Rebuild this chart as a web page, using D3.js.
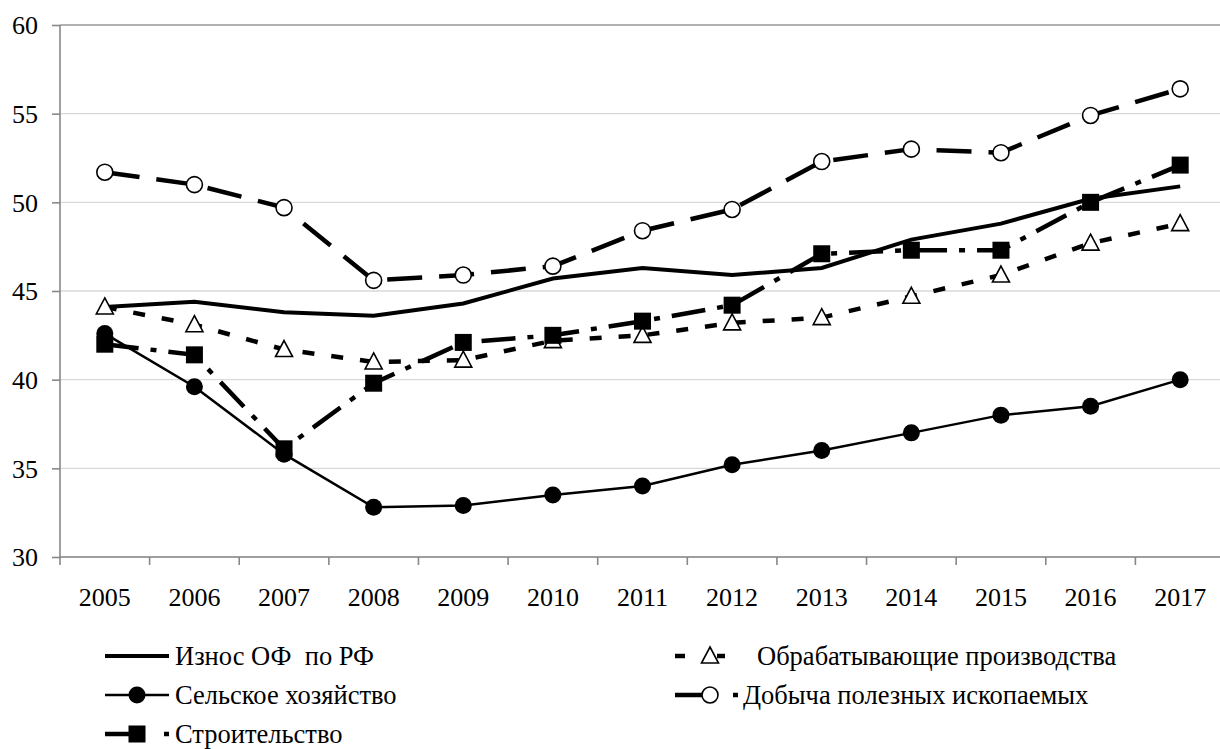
<!DOCTYPE html>
<html lang="ru">
<head>
<meta charset="utf-8">
<title>Износ основных фондов</title>
<script src="https://cdn.jsdelivr.net/npm/d3@7/dist/d3.min.js"></script>
<style>
  body { margin: 0; background: #fff; }
  svg text { font-family: "Liberation Serif", "Times New Roman", serif; fill: #000; white-space: pre; }
</style>
</head>
<body>
<svg id="chart" width="1220" height="749"></svg>
<script>
// годы и значения, %
var years = ['2005', '2006', '2007', '2008', '2009', '2010', '2011', '2012', '2013', '2014', '2015', '2016', '2017'];
var yTicks = [30, 35, 40, 45, 50, 55, 60];

var iznosRF      = [44.1, 44.4, 43.8, 43.6, 44.3, 45.7, 46.3, 45.9, 46.3, 47.9, 48.8, 50.2, 50.9];
var obrabat      = [44.1, 43.1, 41.7, 41.0, 41.1, 42.2, 42.5, 43.2, 43.5, 44.7, 45.9, 47.7, 48.8];
var selskoe      = [42.6, 39.6, 35.8, 32.8, 32.9, 33.5, 34.0, 35.2, 36.0, 37.0, 38.0, 38.5, 40.0];
var dobycha      = [51.7, 51.0, 49.7, 45.6, 45.9, 46.4, 48.4, 49.6, 52.3, 53.0, 52.8, 54.9, 56.4];
var stroitelstvo = [42.0, 41.4, 36.1, 39.8, 42.1, 42.5, 43.3, 44.2, 47.1, 47.3, 47.3, 50.0, 52.1];

var seriesNames = ['Износ ОФ  по РФ', 'Обрабатывающие производства', 'Сельское хозяйство',
                   'Добыча полезных ископаемых', 'Строительство'];

(function () {
    var svg = d3.select('#chart');
    var mLeft = 60, mTop = 25, mBottom = 557, mRight = 1225;

    var x = d3.scaleBand().domain(years).range([mLeft, mRight]).padding(0);
    var y = d3.scaleLinear().domain([30, 60]).range([mBottom, mTop]);
    var cx = function (d, i) { return x(years[i]) + x.bandwidth() / 2; };

    // сетка
    svg.append('g')
        .selectAll('line')
        .data(yTicks)
        .enter().append('line')
        .attr('x1', mLeft).attr('x2', mRight)
        .attr('y1', function (d) { return y(d); })
        .attr('y2', function (d) { return y(d); })
        .attr('stroke', function (d) { return d === 60 ? '#999' : '#d9d9d9'; })
        .attr('stroke-width', 1.3);

    // оси
    var yAxis = svg.append('g')
        .attr('class', 'axis')
        .attr('transform', 'translate(' + mLeft + ',0)')
        .call(d3.axisLeft(y).tickValues(yTicks).tickSize(8).tickPadding(14));
    yAxis.selectAll('text').style('font-size', '26px').attr('dy', '0.34em');

    var xAxis = svg.append('g')
        .attr('class', 'axis')
        .attr('transform', 'translate(0,' + mBottom + ')')
        .call(d3.axisBottom(x).tickSize(0).tickPadding(39));
    xAxis.selectAll('text').style('font-size', '26px').attr('dy', '0.4em');

    // деления на границах категорий
    xAxis.selectAll('.bound')
        .data(years)
        .enter().append('line')
        .attr('class', 'bound')
        .attr('x1', function (d) { return x(d); })
        .attr('x2', function (d) { return x(d); })
        .attr('y1', 0).attr('y2', 8);

    svg.selectAll('.axis path, .axis line').attr('stroke', '#888').attr('stroke-width', 1.6);
    yAxis.select('path').attr('d', 'M0,' + mTop + 'V' + mBottom);
    xAxis.select('path').attr('d', 'M' + mLeft + ',0H' + mRight);

    var line = d3.line()
        .x(cx)
        .y(function (d) { return y(d); });

    var styles = [
        { data: iznosRF,      width: 4,   dash: null,          marker: null },
        { data: obrabat,      width: 4.5, dash: '12,17',       marker: 'triangle' },
        { data: selskoe,      width: 2.5, dash: null,          marker: 'dot' },
        { data: dobycha,      width: 4.5, dash: '35,17',       marker: 'circle' },
        { data: stroitelstvo, width: 4.5, dash: '34,12,6,12',  marker: 'square' }
    ];

    function drawMarker(g, kind, px, py) {
        if (kind === 'dot') {
            g.append('circle').attr('cx', px).attr('cy', py).attr('r', 8.5).attr('fill', '#000');
        } else if (kind === 'circle') {
            g.append('circle').attr('cx', px).attr('cy', py).attr('r', 8)
                .attr('fill', '#fff').attr('stroke', '#000').attr('stroke-width', 1.6);
        } else if (kind === 'square') {
            g.append('rect').attr('x', px - 8.5).attr('y', py - 8.5)
                .attr('width', 17).attr('height', 17).attr('fill', '#000');
        } else if (kind === 'triangle') {
            g.append('path')
                .attr('d', 'M' + px + ',' + (py - 9) + 'L' + (px + 8.5) + ',' + (py + 7) + 'L' + (px - 8.5) + ',' + (py + 7) + 'Z')
                .attr('fill', '#fff').attr('stroke', '#000').attr('stroke-width', 1.6);
        }
    }

    styles.forEach(function (s) {
        var g = svg.append('g');
        g.append('path')
            .datum(s.data)
            .attr('d', line)
            .attr('fill', 'none')
            .attr('stroke', '#000')
            .attr('stroke-width', s.width)
            .attr('stroke-dasharray', s.dash);
        if (s.marker) {
            s.data.forEach(function (d, i) {
                drawMarker(g, s.marker, cx(d, i), y(d));
            });
        }
    });

    // легенда
    var legendPos = [
        { lx: 105, mx: 137, tx: 175, ty: 656, dash: null },
        { lx: 675, mx: 710, tx: 757, ty: 656, dash: '10,32,8,100' },
        { lx: 105, mx: 137, tx: 175, ty: 695, dash: null },
        { lx: 675, mx: 710, tx: 743, ty: 695, dash: '40,18,5,100' },
        { lx: 105, mx: 137, tx: 175, ty: 734, dash: '32,27,5,100' }
    ];

    var legend = svg.append('g');
    styles.forEach(function (s, i) {
        var p = legendPos[i];
        var g = legend.append('g');
        g.append('line')
            .attr('x1', p.lx).attr('x2', p.lx + 64)
            .attr('y1', p.ty).attr('y2', p.ty)
            .attr('stroke', '#000')
            .attr('stroke-width', s.width)
            .attr('stroke-dasharray', p.dash);
        if (s.marker) drawMarker(g, s.marker, p.mx, p.ty);
        g.append('text')
            .attr('x', p.tx).attr('y', p.ty)
            .attr('dy', '0.33em')
            .style('font-size', '26.5px')
            .text(seriesNames[i]);
    });
})();
</script>
</body>
</html>
